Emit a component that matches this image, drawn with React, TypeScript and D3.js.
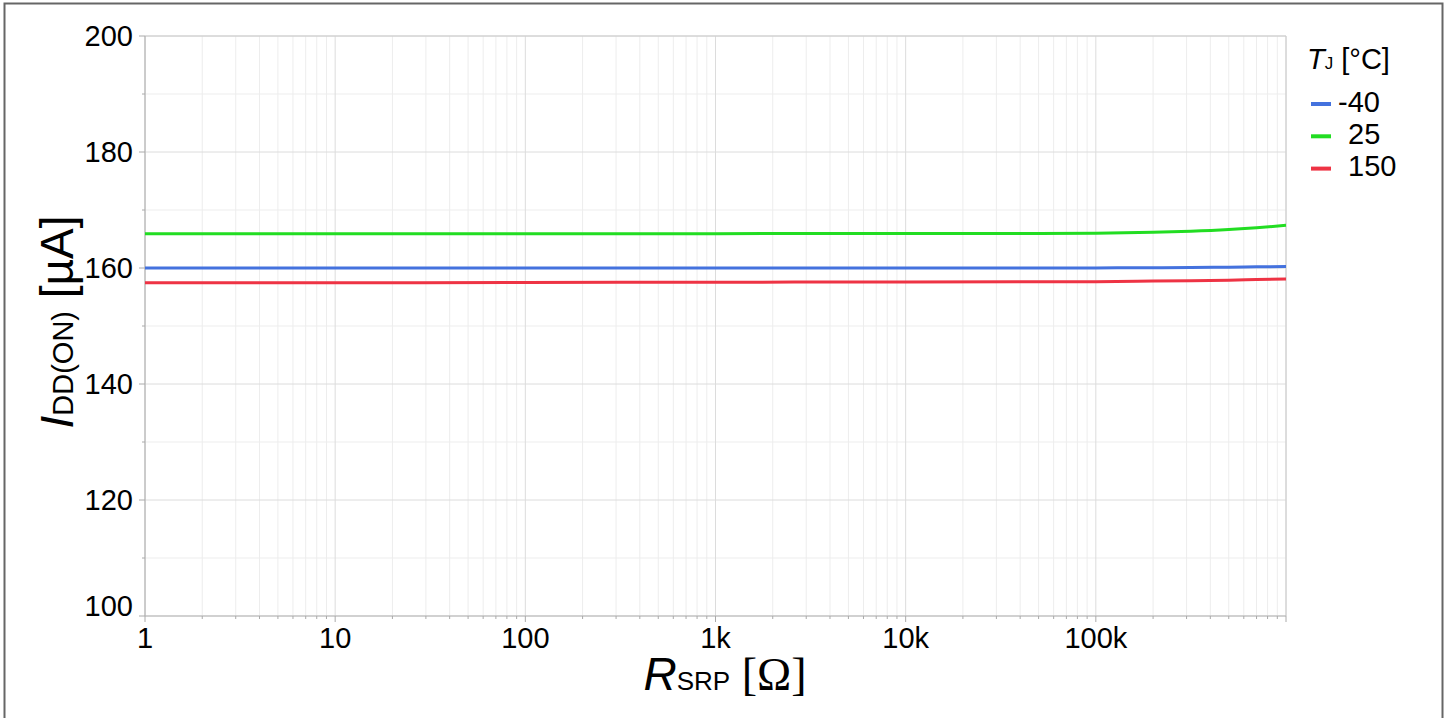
import React from "react";
import * as d3 from "d3";

const xValues = [1, 10, 100, 1000, 10000, 50000, 100000, 200000, 316000, 500000, 700000, 1000000];
const seriesM40 = [160.0, 160.0, 160.0, 160.0, 160.0, 160.0, 160.02, 160.05, 160.1, 160.15, 160.2, 160.25];
const series25 = [165.9, 165.9, 165.92, 165.92, 165.95, 165.95, 166.0, 166.15, 166.35, 166.65, 166.95, 167.35];
const series150 = [157.45, 157.45, 157.5, 157.55, 157.6, 157.62, 157.65, 157.75, 157.82, 157.9, 158.0, 158.1];
const seriesNames = ["-40", "25", "150"];
const seriesColors = ["#4472DE", "#22DD22", "#EE3344"];
const xTickLabels = ["1", "10", "100", "1k", "10k", "100k"];
const yTickLabels = [100, 120, 140, 160, 180, 200];

const W = 1450;
const H = 718;
const L = 145, R = 1286, T = 36, B = 616;
const FONT = "'Liberation Sans', Arial, sans-serif";

export default function App() {
  const x = d3.scaleLog().domain([1, 1e6]).range([L, R]);
  const y = d3.scaleLinear().domain([100, 200]).range([B, T]);
  const allSeries = [seriesM40, series25, series150];
  const line = d3
    .line<number>()
    .x((_, i) => x(xValues[i]))
    .y((d) => y(d))
    .curve(d3.curveMonotoneX);

  const majorX: number[] = [];
  const minorX: number[] = [];
  for (let e = 0; e <= 6; e++) {
    majorX.push(Math.pow(10, e));
    if (e < 6) for (let m = 2; m <= 9; m++) minorX.push(m * Math.pow(10, e));
  }
  const majorY = yTickLabels;
  const minorY = d3.range(110, 200, 20);

  return (
    <div style={{ position: "absolute", left: 0, top: 0 }}>
      <svg width={W} height={H} style={{ display: "block" }}>
        <rect x={0} y={0} width={W} height={H} fill="#fff" />
        {/* outer frame */}
        <rect x={4.5} y={3.5} width={1438} height={720} fill="none" stroke="#666" strokeWidth={2} />
        {/* minor grid */}
        {minorX.map((v) => (
          <line key={"mx" + v} x1={x(v)} x2={x(v)} y1={T} y2={B} stroke="#ededed" strokeWidth={1} />
        ))}
        {minorY.map((v) => (
          <line key={"my" + v} x1={L} x2={R} y1={y(v)} y2={y(v)} stroke="#ededed" strokeWidth={1} />
        ))}
        {/* major grid */}
        {majorX.map((v) => (
          <line key={"Mx" + v} x1={x(v)} x2={x(v)} y1={T} y2={B} stroke="#dcdcdc" strokeWidth={1} />
        ))}
        {majorY.map((v) => (
          <line key={"My" + v} x1={L} x2={R} y1={y(v)} y2={y(v)} stroke="#dcdcdc" strokeWidth={1} />
        ))}
        {/* frame of plot */}
        <line x1={L} x2={R} y1={T} y2={T} stroke="#cccccc" strokeWidth={1} />
        <line x1={R} x2={R} y1={T} y2={B} stroke="#cccccc" strokeWidth={1} />
        <line x1={L} x2={L} y1={T} y2={B} stroke="#aaaaaa" strokeWidth={1} />
        <line x1={L} x2={R} y1={B} y2={B} stroke="#b5b5b5" strokeWidth={1} />
        {/* y ticks */}
        {majorY.map((v) => (
          <line key={"yt" + v} x1={L - 6} x2={L} y1={y(v)} y2={y(v)} stroke="#aaaaaa" />
        ))}
        {minorY.map((v) => (
          <line key={"ymt" + v} x1={L - 3} x2={L} y1={y(v)} y2={y(v)} stroke="#aaaaaa" />
        ))}
        {yTickLabels.map((v, i) => (
          <text
            key={"yl" + v}
            x={133}
            y={y(v) + (i === 0 ? 0 : 10)}
            textAnchor="end"
            fontFamily={FONT}
            fontSize={29}
            fill="#000"
          >
            {v}
          </text>
        ))}
        {/* x ticks */}
        {majorX.map((v) => (
          <line key={"xt" + v} x1={x(v)} x2={x(v)} y1={B} y2={B + 6} stroke="#aaaaaa" />
        ))}
        {minorX.map((v) => (
          <line key={"xmt" + v} x1={x(v)} x2={x(v)} y1={B} y2={B + 3} stroke="#aaaaaa" />
        ))}
        {xTickLabels.map((t, i) => (
          <text key={"xl" + t} x={x(majorX[i])} y={648} textAnchor="middle" fontFamily={FONT} fontSize={29} fill="#000">
            {t}
          </text>
        ))}
        {/* series */}
        {allSeries.map((s, i) => (
          <path key={"s" + i} d={line(s) || ""} fill="none" stroke={seriesColors[i]} strokeWidth={3} />
        ))}
        {/* axis titles */}
        <text x={725} y={690} textAnchor="middle" fontFamily={FONT} fontSize={46} fill="#000">
          <tspan fontStyle="italic">R</tspan>
          <tspan fontSize={26}>SRP</tspan>
          <tspan fontFamily="'Liberation Serif', 'Times New Roman', serif"> [Ω]</tspan>
        </text>
        <text
          transform={`translate(73, 322) rotate(-90)`}
          textAnchor="middle"
          fontFamily={FONT}
          fontSize={46}
          fill="#000"
        >
          <tspan fontStyle="italic">I</tspan>
          <tspan fontSize={29}>DD(ON)</tspan>
          <tspan> [µA]</tspan>
        </text>
        {/* legend */}
        <text x={1307} y={69} fontFamily={FONT} fontSize={29} fill="#000">
          <tspan fontStyle="italic">T</tspan>
          <tspan fontSize={17}>J</tspan>
          <tspan> [°C]</tspan>
        </text>
        {seriesNames.map((n, i) => {
          const ly = 104 + i * 32.3;
          return (
            <g key={"lg" + n}>
              <line x1={1311} x2={1331} y1={ly} y2={ly} stroke={seriesColors[i]} strokeWidth={4} />
              <text x={i === 0 ? 1338 : 1348} y={ly + 7.7} fontFamily={FONT} fontSize={29} fill="#000">
                {n}
              </text>
            </g>
          );
        })}
      </svg>
    </div>
  );
}
